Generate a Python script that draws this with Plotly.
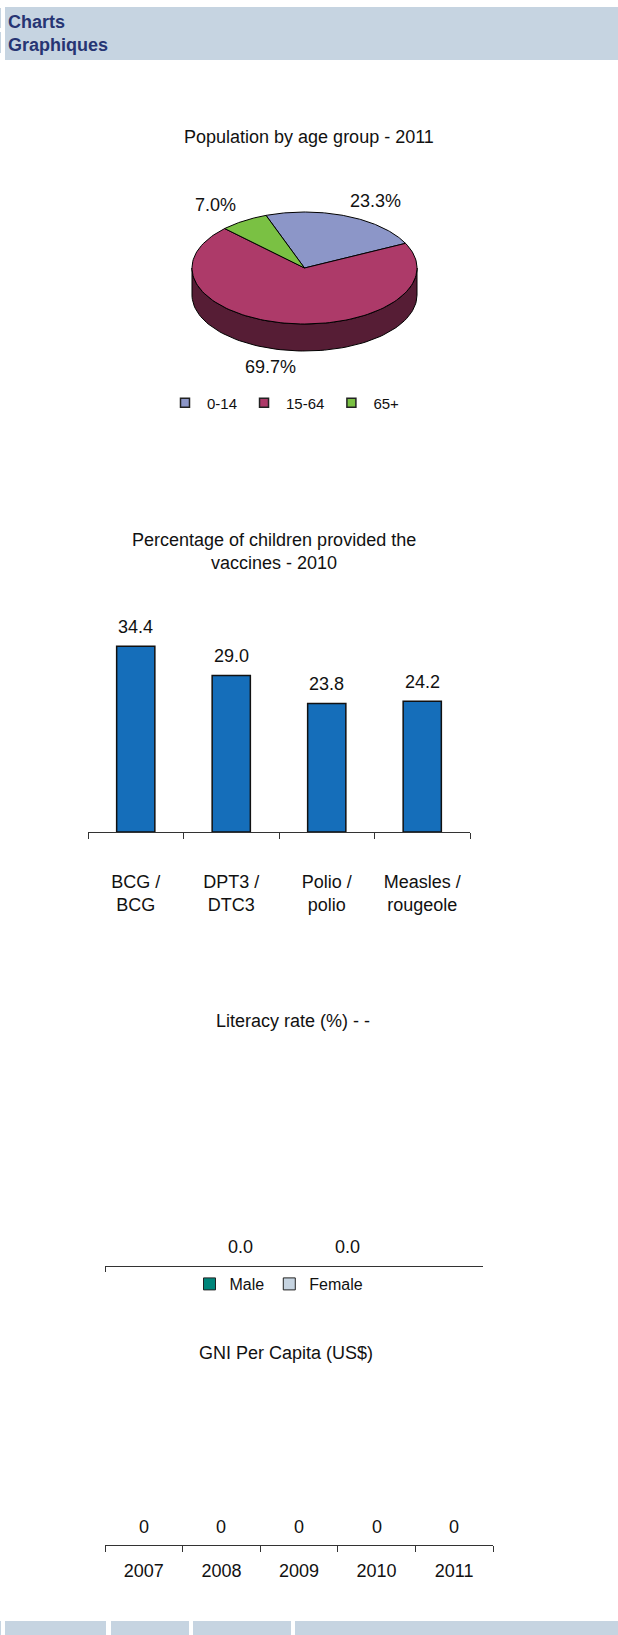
import numpy as np
import plotly.graph_objects as go

W, H = 618, 1635

# ---------------- data ----------------
header_lines = ["Charts", "Graphiques"]

pie_title = "Population by age group - 2011"
pie_labels = ["0-14", "15-64", "65+"]
pie_values = [23.3, 69.7, 7.0]
pie_colors = ["#8C96C8", "#AD3A69", "#7AC143"]
pie_side_colors = ["#464B64", "#561D35", "#3D6122"]

vacc_title = "Percentage of children provided the<br>vaccines - 2010"
vacc_categories = ["BCG /<br>BCG", "DPT3 /<br>DTC3", "Polio /<br>polio", "Measles /<br>rougeole"]
vacc_values = [34.4, 29.0, 23.8, 24.2]
vacc_color = "#156EBA"

lit_title = "Literacy rate (%) - -"
lit_category = [""]
lit_series = ["Male", "Female"]
lit_values = [[0.0], [0.0]]
lit_colors = ["#00857A", "#C6D4E1"]

gni_title = "GNI Per Capita (US$)"
gni_years = ["2007", "2008", "2009", "2010", "2011"]
gni_values = [0, 0, 0, 0, 0]

# ---------------- helpers ----------------
FONT = "Liberation Sans, Arial, sans-serif"
TXT = "#111111"
HEAD_BG = "#C6D4E1"


def px(x):
    return x / W


def py(y):
    return 1 - y / H


fig = go.Figure()

# ---------------- 3D pie (drawn on a pixel canvas axis) ----------------
cx, cy, rx, ry, depth = 304.5, 268.0, 112.5, 56.0, 27.0
start_deg = 110.0
label_turn = -2.0
total = sum(pie_values)


def ell(a_deg, dy=0.0):
    a = np.radians(a_deg)
    return cx + rx * np.cos(a), cy - ry * np.sin(a) + dy


slices = []
acc = 0.0
for v in pie_values:
    a0 = start_deg - acc / total * 360.0
    a1 = a0 - v / total * 360.0
    slices.append((a0, a1))
    acc += v

# side walls (front half only)
for (a0, a1), sc in zip(slices, pie_side_colors):
    for k in range(-2, 3):
        lo = max(a1, -180 + 360 * k)
        hi = min(a0, 360 * k)
        if lo < hi:
            angs = np.linspace(lo, hi, 80)
            tx, ty = ell(angs)
            bx, by = ell(angs[::-1], depth)
            xs = np.concatenate([tx, bx, tx[:1]])
            ys = np.concatenate([ty, by, ty[:1]])
            fig.add_trace(go.Scatter(x=xs, y=ys, mode="lines", fill="toself",
                                     fillcolor=sc, line=dict(color="#000", width=1),
                                     hoverinfo="skip", showlegend=False,
                                     xaxis="x", yaxis="y"))

# top faces
for (a0, a1), c in zip(slices, pie_colors):
    angs = np.linspace(a0, a1, 120)
    ex, ey = ell(angs)
    xs = np.concatenate([[cx], ex, [cx]])
    ys = np.concatenate([[cy], ey, [cy]])
    fig.add_trace(go.Scatter(x=xs, y=ys, mode="lines", fill="toself",
                             fillcolor=c, line=dict(color="#000", width=1),
                             hoverinfo="skip", showlegend=False,
                             xaxis="x", yaxis="y"))

# pie value labels
for (a0, a1), v in zip(slices, pie_values):
    m = np.radians((a0 + a1) / 2 + label_turn)
    lx = cx + 1.55 * rx * np.cos(m)
    ly = cy - 1.31 * ry * np.sin(m) + (depth if np.sin(m) < 0 else 0)
    fig.add_annotation(x=lx, y=ly, xref="x", yref="y", text=f"{v:.1f}%",
                       showarrow=False, font=dict(size=18, color=TXT, family=FONT),
                       xanchor="center", yanchor="middle")

# pie legend entries
for lab, c in zip(pie_labels, pie_colors):
    fig.add_trace(go.Scatter(x=[None], y=[None], mode="markers", name=lab,
                             marker=dict(symbol="square", size=9, color=c,
                                         line=dict(color="#222", width=1.5)),
                             xaxis="x", yaxis="y", legend="legend"))

# ---------------- vaccines bar chart ----------------
fig.add_trace(go.Bar(x=vacc_categories, y=vacc_values, width=0.4,
                     marker=dict(color=vacc_color, line=dict(color="#111", width=1.5)),
                     showlegend=False, hoverinfo="skip", xaxis="x2", yaxis="y2"))
for i, v in enumerate(vacc_values):
    fig.add_annotation(x=i, y=v, xref="x2", yref="y2", yshift=19, text=f"{v:.1f}",
                       showarrow=False, font=dict(size=18, color=TXT, family=FONT),
                       yanchor="middle")

# ---------------- literacy grouped bars ----------------
BARGAP = 0.43
for s, vals, c in zip(lit_series, lit_values, lit_colors):
    fig.add_trace(go.Bar(x=lit_category, y=vals, name=s,
                         marker=dict(color=c, line=dict(width=0)),
                         hoverinfo="skip", xaxis="x3", yaxis="y3", showlegend=False))
    # legend key for the series (carries the outlined swatch)
    fig.add_trace(go.Bar(x=[None], y=[None], name=s,
                         marker=dict(color=c, line=dict(color="#222", width=1)),
                         hoverinfo="skip", xaxis="x", yaxis="y", legend="legend2"))
n_lit = len(lit_series)
slot = (1 - BARGAP) / n_lit
for j, vals in enumerate(lit_values):
    off = -(1 - BARGAP) / 2 + slot * (j + 0.5)
    for i, v in enumerate(vals):
        fig.add_annotation(x=i + off, y=v, xref="x3", yref="y3", yshift=19,
                           text=f"{v:.1f}", showarrow=False,
                           font=dict(size=18, color=TXT, family=FONT), yanchor="middle")

# ---------------- GNI bars ----------------
fig.add_trace(go.Bar(x=gni_years, y=gni_values, width=0.4,
                     marker=dict(color=vacc_color, line=dict(width=0)),
                     showlegend=False, hoverinfo="skip", xaxis="x4", yaxis="y4"))
for i, v in enumerate(gni_values):
    fig.add_annotation(x=i, y=v, xref="x4", yref="y4", yshift=18, text=f"{v:d}",
                       showarrow=False, font=dict(size=18, color=TXT, family=FONT),
                       yanchor="middle")

# ---------------- titles / header ----------------
titles = [(pie_title, 309, 137), (vacc_title, 273.5, 551.5),
          (lit_title, 293, 1021), (gni_title, 286, 1353)]
for t, tx, ty in titles:
    fig.add_annotation(x=px(tx), y=py(ty), xref="paper", yref="paper", text=t,
                       showarrow=False, font=dict(size=18, color=TXT, family=FONT),
                       xanchor="center", yanchor="middle", align="center")

for t, ty in zip(header_lines, [21.5, 45]):
    fig.add_annotation(x=px(6), y=py(ty), xref="paper", yref="paper",
                       text=f"<b>{t}</b>", showarrow=False,
                       font=dict(size=18, color="#263573", family=FONT),
                       xanchor="left", yanchor="middle")

shapes = [
    dict(type="rect", xref="paper", yref="paper", x0=px(5), x1=1, y0=py(60), y1=py(7),
         fillcolor=HEAD_BG, line=dict(width=0), layer="below"),
    dict(type="rect", xref="paper", yref="paper", x0=0, x1=px(1), y0=py(28), y1=py(8),
         fillcolor=HEAD_BG, line=dict(width=0), layer="below"),
    dict(type="rect", xref="paper", yref="paper", x0=0, x1=px(1), y0=py(53), y1=py(32),
         fillcolor=HEAD_BG, line=dict(width=0), layer="below"),
]
for x0, x1 in [(0, 1), (5, 106), (111, 189), (193, 291), (295, 618)]:
    shapes.append(dict(type="rect", xref="paper", yref="paper", x0=px(x0), x1=px(x1),
                       y0=0, y1=py(1621), fillcolor=HEAD_BG, line=dict(width=0),
                       layer="below"))

hidden = dict(visible=False, fixedrange=True)
cat_axis = dict(type="category", showline=True, linecolor="#333", linewidth=1,
                ticks="outside", tickcolor="#333", tickwidth=1, tickson="boundaries",
                showgrid=False, zeroline=False, fixedrange=True,
                tickfont=dict(size=18, color=TXT, family=FONT))

fig.update_layout(
    width=W, height=H, autosize=False,
    margin=dict(l=0, r=0, t=0, b=0, pad=0),
    paper_bgcolor="white", plot_bgcolor="rgba(0,0,0,0)",
    font=dict(family=FONT, color=TXT),
    barmode="group", bargap=BARGAP, bargroupgap=0,
    shapes=shapes,
    xaxis=dict(domain=[0, 1], range=[0, W], anchor="y", **hidden),
    yaxis=dict(domain=[0, 1], range=[H, 0], anchor="x", **hidden),
    xaxis2=dict(domain=[px(88), px(470)], anchor="y2", range=[-0.5, 3.5],
                ticklen=6, ticklabelstandoff=33, **cat_axis),
    yaxis2=dict(domain=[py(832), py(616)], range=[0, 40], anchor="x2", **hidden),
    xaxis3=dict(domain=[px(105), px(483)], anchor="y3", range=[-0.5, 0.5],
                ticklen=5, showticklabels=False, **cat_axis),
    yaxis3=dict(domain=[py(1266), py(1100)], range=[0, 1], anchor="x3", **hidden),
    xaxis4=dict(domain=[px(105), px(493)], anchor="y4", range=[-0.5, 4.5],
                ticklen=6, ticklabelstandoff=9, **cat_axis),
    yaxis4=dict(domain=[py(1545), py(1400)], range=[0, 1], anchor="x4", **hidden),
    legend=dict(orientation="h", x=px(284), y=py(403), xanchor="center",
                yanchor="middle", font=dict(size=15, color=TXT, family=FONT),
                bgcolor="rgba(0,0,0,0)", traceorder="normal", itemclick=False,
                itemwidth=34),
    legend2=dict(orientation="h", x=px(279), y=py(1284), xanchor="center",
                 yanchor="middle", font=dict(size=16, color=TXT, family=FONT),
                 bgcolor="rgba(0,0,0,0)", traceorder="normal", itemclick=False),
    showlegend=True,
)

fig.write_html(
    "out.html",
    config={"displayModeBar": False, "staticPlot": True},
    post_script="document.body.style.margin='0px';document.body.style.overflow='hidden';",
)
